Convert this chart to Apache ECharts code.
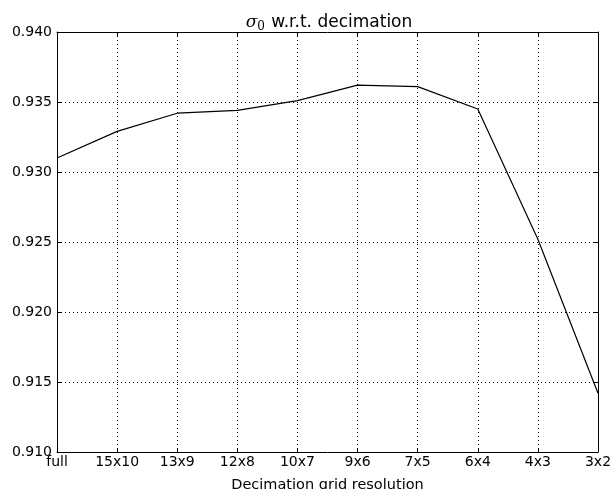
<!DOCTYPE html>
<html>
<head>
<meta charset="utf-8">
<script src="https://cdn.jsdelivr.net/npm/echarts@6/dist/echarts.min.js"></script>
<style>
  html, body { margin: 0; padding: 0; background: #fff; }
  #chart { width: 613px; height: 489px; }
</style>
</head>
<body>
<div id="chart"></div>
<script>
// decimation levels on the x axis
const resolutions = ["full", "15x10", "13x9", "12x8", "10x7", "9x6", "7x5", "6x4", "4x3", "3x2"];
// sigma_0 per decimation level
const sigmaValues = [0.9310, 0.9329, 0.9342, 0.9344, 0.9351, 0.9362, 0.9361, 0.9345, 0.9252, 0.9142];
const yMin = 0.910;
const yMax = 0.940;
const yStep = 0.005;

const FONT = "DejaVu Sans";

const tickStyle = { show: true, inside: true, length: 4, lineStyle: { color: "#000", width: 1 } };
const lineStyle = { color: "#000", width: 1 };
const gridLine = { show: true, lineStyle: { color: "#000", type: [1, 3], width: 1 } };

const chart = echarts.init(document.getElementById("chart"));
const option = {
  backgroundColor: "#fff",
  animation: false,
  title: {
    text: "{s|σ}{sub|0} w.r.t. decimation",
    left: 324,
    top: 7,
    textAlign: "center",
    textStyle: {
      fontFamily: FONT,
      fontSize: 17,
      fontWeight: "normal",
      color: "#000",
      rich: {
        s: { fontFamily: "DejaVu Serif", fontStyle: "italic", fontSize: 17, color: "#000" },
        sub: { fontFamily: "DejaVu Serif", fontSize: 12, color: "#000", padding: [9, 1, 0, 0] }
      }
    }
  },
  grid: { left: 57, right: 15, top: 32, bottom: 37, containLabel: false, outerBoundsMode: "none" },
  xAxis: [
    {
      type: "category",
      data: resolutions,
      boundaryGap: false,
      name: "Decimation grid resolution",
      nameLocation: "middle",
      nameGap: 26,
      nameTextStyle: { fontFamily: FONT, fontSize: 14.5, color: "#000" },
      axisLine: { lineStyle: lineStyle },
      axisTick: Object.assign({ alignWithLabel: true }, tickStyle),
      axisLabel: { fontFamily: FONT, fontSize: 14, color: "#000", margin: 3, interval: 0 },
      splitLine: gridLine
    },
    {
      type: "category",
      data: resolutions,
      boundaryGap: false,
      position: "top",
      axisLine: { lineStyle: lineStyle },
      axisTick: tickStyle,
      axisLabel: { show: false },
      splitLine: { show: false }
    }
  ],
  yAxis: [
    {
      type: "value",
      min: yMin,
      max: yMax,
      interval: yStep,
      axisLine: { show: true, lineStyle: lineStyle },
      axisTick: tickStyle,
      axisLabel: {
        fontFamily: FONT, fontSize: 14, color: "#000", margin: 5,
        formatter: v => v.toFixed(3)
      },
      splitLine: gridLine
    },
    {
      type: "value",
      min: yMin,
      max: yMax,
      interval: yStep,
      position: "right",
      axisLine: { show: true, lineStyle: lineStyle },
      axisTick: tickStyle,
      axisLabel: { show: false },
      splitLine: { show: false }
    }
  ],
  series: [
    {
      type: "line",
      data: sigmaValues,
      showSymbol: false,
      lineStyle: { color: "#000", width: 1.2 },
      itemStyle: { color: "#000" }
    }
  ]
};
chart.setOption(option);
</script>
</body>
</html>
